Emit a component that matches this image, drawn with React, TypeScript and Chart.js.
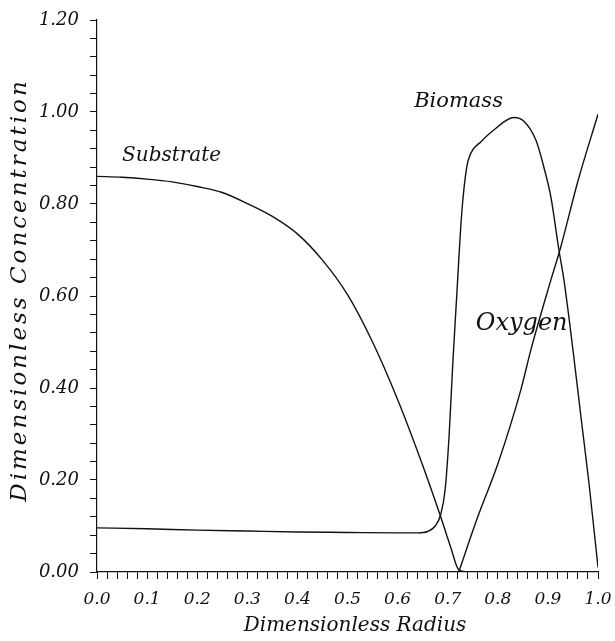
import React, { useEffect, useRef } from "react";
import { Chart, registerables } from "chart.js";

Chart.register(...registerables);

// ---- data ----
const substrateR = [0, 0.05, 0.1, 0.15, 0.2, 0.25, 0.3, 0.35, 0.4, 0.45, 0.5, 0.55, 0.6, 0.65, 0.686, 0.706, 0.722, 0.74];
const substrateC = [0.86, 0.858, 0.854, 0.848, 0.838, 0.825, 0.801, 0.773, 0.735, 0.678, 0.603, 0.5, 0.375, 0.232, 0.12, 0.054, 0.005, 0.0];

const biomassR = [0, 0.1, 0.2, 0.3, 0.4, 0.5, 0.6, 0.64, 0.66, 0.675, 0.686, 0.695, 0.703, 0.71, 0.718, 0.728, 0.738, 0.746, 0.766, 0.792, 0.832, 0.852, 0.876, 0.892, 0.906, 0.922, 0.932, 0.95, 0.966, 0.982, 1.0];
const biomassC = [0.096, 0.094, 0.091, 0.089, 0.087, 0.086, 0.085, 0.085, 0.088, 0.1, 0.125, 0.18, 0.3, 0.45, 0.6, 0.78, 0.88, 0.91, 0.935, 0.961, 0.988, 0.98, 0.939, 0.88, 0.815, 0.7, 0.635, 0.483, 0.337, 0.193, 0.01];

const oxygenR = [0.722, 0.76, 0.8, 0.846, 0.866, 0.906, 0.924, 0.96, 1.0];
const oxygenC = [0.0, 0.12, 0.235, 0.396, 0.483, 0.635, 0.7, 0.85, 0.995];

const curveLabels = ["Substrate", "Biomass", "Oxygen"];
const curveLabelR = [0.05, 0.633, 0.756];
const curveLabelC = [0.893, 1.01, 0.526];

const xTitle = "Dimensionless Radius";
const yTitle = "Dimensionless Concentration";

const FONT = "'DejaVu Serif', serif";

function pts(r: number[], c: number[]) {
  return r.map((x, i) => ({ x, y: c[i] }));
}

export default function App() {
  const ref = useRef<HTMLCanvasElement | null>(null);

  useEffect(() => {
    if (!ref.current) return;

    const labelPlugin = {
      id: "curveLabels",
      afterDatasetsDraw(chart: any) {
        const ctx = chart.ctx;
        const xs = chart.scales.x;
        const ys = chart.scales.y;
        const ca = chart.chartArea;
        ctx.save();
        ctx.fillStyle = "#111";
        ctx.textAlign = "left";
        ctx.textBaseline = "alphabetic";
        curveLabels.forEach((t, i) => {
          const size = t === "Oxygen" ? 24 : t === "Biomass" ? 21 : 20;
          ctx.font = `italic ${size}px ${FONT}`;
          ctx.fillText(t, xs.getPixelForValue(curveLabelR[i]), ys.getPixelForValue(curveLabelC[i]));
        });
        // x axis title
        ctx.font = `italic 20px ${FONT}`;
        ctx.textAlign = "center";
        ctx.textBaseline = "middle";
        ctx.fillText(xTitle, xs.getPixelForValue(0.515), ca.bottom + 54);
        // y axis title
        ctx.font = `italic 23px ${FONT}`;
        (ctx as any).letterSpacing = "3px";
        ctx.translate(26, (ca.top + ca.bottom) / 2 - 6);
        ctx.rotate(-Math.PI / 2);
        ctx.textBaseline = "alphabetic";
        ctx.fillText(yTitle, 0, 0);
        ctx.restore();
      },
    };

    const lineStyle = {
      borderColor: "#111",
      borderWidth: 1.4,
      pointRadius: 0,
      fill: false,
      cubicInterpolationMode: "monotone" as const,
    };

    const chart = new Chart(ref.current, {
      type: "line",
      data: {
        datasets: [
          { label: "Substrate", data: pts(substrateR, substrateC), ...lineStyle },
          { label: "Biomass", data: pts(biomassR, biomassC), ...lineStyle },
          { label: "Oxygen", data: pts(oxygenR, oxygenC), ...lineStyle },
        ],
      },
      options: {
        animation: false,
        responsive: false,
        layout: { padding: { top: 20, right: 17, left: 0, bottom: 0 } },
        plugins: { legend: { display: false }, tooltip: { enabled: false } },
        scales: {
          x: {
            type: "linear",
            min: 0,
            max: 1,
            afterFit(scale: any) {
              scale.height = 69;
              scale.paddingLeft = 0;
              scale.paddingRight = 0;
            },
            border: { display: true, color: "#111", width: 1.2 },
            grid: { drawOnChartArea: false, drawTicks: true, tickLength: 7, color: "#111" },
            ticks: {
              stepSize: 0.02,
              autoSkip: false,
              maxRotation: 0,
              padding: 10,
              color: "#111",
              font: { family: FONT, style: "italic", size: 17 },
              callback: (v: any) => {
                const k = Math.round(Number(v) * 100);
                return k % 10 === 0 ? (k / 100).toFixed(1) : "";
              },
            },
          },
          y: {
            type: "linear",
            min: 0,
            max: 1.2,
            afterFit(scale: any) {
              scale.width = 97;
              scale.paddingTop = 0;
              scale.paddingBottom = 0;
            },
            border: { display: true, color: "#111", width: 1.2 },
            grid: { drawOnChartArea: false, drawTicks: true, tickLength: 7, color: "#111" },
            ticks: {
              stepSize: 0.04,
              autoSkip: false,
              padding: 11,
              color: "#111",
              font: { family: FONT, style: "italic", size: 18 },
              callback: (v: any) => {
                const k = Math.round(Number(v) * 100);
                return k % 20 === 0 ? (k / 100).toFixed(2) : "";
              },
            },
          },
        },
      },
      plugins: [labelPlugin],
    });

    return () => chart.destroy();
  }, []);

  return (
    <div style={{ position: "fixed", left: 0, top: 0, width: 615, height: 641, background: "#fff" }}>
      <canvas ref={ref} width={615} height={641} />
    </div>
  );
}
